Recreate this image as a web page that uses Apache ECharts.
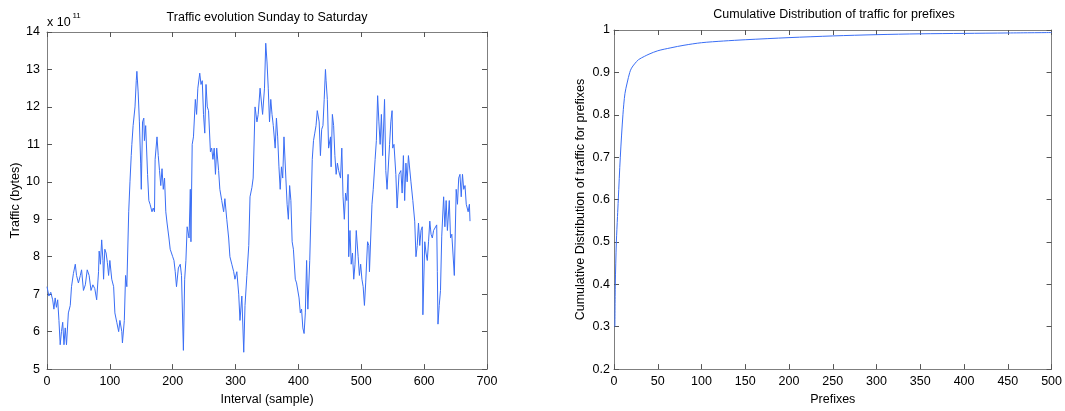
<!DOCTYPE html>
<html>
<head>
<meta charset="utf-8">
<script src="https://cdn.jsdelivr.net/npm/echarts@6/dist/echarts.min.js"></script>
<style>
html,body{margin:0;padding:0;background:#fff;}
#chart{width:1065px;height:411px;}
</style>
</head>
<body>
<div id="chart"></div>
<script>
// ---- Left chart: traffic per interval (values in units of 1e11 bytes) ----
var sampleIdx = [0,3,6,9,11,13,15,17,19,21,23,25,27,29,31,34,37,39,42,45,47,50,53,55,58,61,64,67,70,73,76,79,82,83,85,87,89,90,92,94,96,98,100,103,106,108,111,114,116,119,120,123,125,127,130,132,134,135,137,140,142,143,145,147,149,150,152,154,155,157,160,162,164,167,169,171,172,175,177,179,181,183,185,187,189,191,194,196,198,200,202,204,206,209,212,214,217,219,221,223,226,228,229,231,233,236,238,240,243,245,247,249,251,253,255,257,260,262,264,266,268,270,273,275,278,281,283,286,289,291,294,297,299,302,305,307,310,313,315,318,321,323,326,328,331,334,336,339,342,343,346,348,350,352,354,356,358,360,363,365,367,369,371,373,375,377,380,382,384,386,388,390,392,395,397,399,401,403,405,407,409,411,413,415,418,420,422,424,426,428,430,433,435,437,439,441,443,444,446,448,451,452,454,456,458,460,462,464,467,469,471,473,475,477,479,480,482,484,486,488,490,492,495,497,499,501,503,505,507,510,512,513,515,517,519,522,524,526,528,530,532,534,537,539,541,543,545,547,549,550,552,555,557,560,563,565,567,569,571,573,575,577,579,582,584,585,587,589,591,593,595,597,598,601,603,605,607,609,611,613,615,618,620,621,622,624,626,628,630,631,633,635,637,640,642,644,647,648,651,653,655,657,659,661,663,665,667,670,672,673];
var traffic = [7.2,6.95,7.05,6.85,6.6,6.9,6.65,6.85,6.3,5.65,6.0,6.25,5.65,6.1,5.65,6.5,6.7,7.2,7.55,7.8,7.5,7.3,7.5,7.65,7.1,7.25,7.65,7.5,7.1,7.25,7.15,6.85,7.6,8.15,7.8,8.45,7.9,7.4,8.2,8.1,7.85,7.5,7.9,7.4,7.2,6.5,6.25,6.0,6.3,6.0,5.7,6.3,7.5,7.2,9.2,10.0,10.7,11.0,11.5,12.0,12.7,12.95,12.4,11.6,10.5,9.8,11.6,11.7,11.1,11.5,10.2,9.5,9.4,9.2,9.3,9.2,10.6,11.2,10.7,10.3,9.9,10.35,9.8,10.1,9.2,8.9,8.5,8.2,8.1,8.0,7.9,7.6,7.2,7.7,7.8,7.5,5.5,7.4,7.9,8.8,8.5,9.8,8.4,11.0,11.2,12.2,11.8,12.5,12.9,12.6,12.7,11.8,11.3,12.6,12.0,11.9,10.8,10.9,10.6,10.9,10.2,10.9,10.3,9.8,9.5,9.2,9.55,9.0,8.5,8.0,7.8,7.6,7.4,7.6,7.0,6.3,6.95,5.45,6.7,7.5,8.3,9.6,9.85,10.1,12.0,11.6,11.8,12.5,12.5,11.8,12.5,13.7,13.2,12.5,11.6,12.2,11.8,11.5,10.9,11.7,11.2,10.4,9.8,10.4,10.1,11.2,10.1,9.4,9.0,9.9,9.5,8.4,8.2,7.4,7.3,7.35,6.9,6.5,6.6,6.1,5.95,6.5,7.9,6.6,7.9,9.2,10.6,11.1,11.3,11.5,11.9,11.6,10.7,11.4,11.5,12.2,13.0,12.7,12.2,10.9,11.2,10.4,11.8,11.5,10.7,10.2,10.5,10.3,10.1,10.9,9.6,9.0,9.7,9.5,10.2,8.0,8.7,7.8,8.1,7.4,7.8,8.7,8.0,7.5,7.8,7.4,7.2,6.7,7.3,8.4,8.3,7.6,8.5,9.4,9.8,10.6,11.1,12.3,11.6,11.0,11.8,10.7,12.2,10.3,9.8,9.8,11.0,11.6,11.9,10.9,11.0,10.2,9.3,10.2,10.3,9.7,10.7,9.5,10.5,10.0,10.7,10.7,10.0,9.5,9.5,8.95,8.0,8.3,8.9,8.3,8.7,8.8,6.45,8.4,8.1,7.9,8.4,8.95,8.6,8.5,8.7,8.7,8.85,7.6,6.2,6.7,7.1,8.55,8.6,9.6,8.8,9.5,8.7,9.5,8.5,8.6,8.6,7.5,9.8,9.4,10.1,10.2,9.6,10.2,9.8,9.9,9.4,9.2,9.4,8.95];

// ---- Right chart: cumulative distribution of traffic for prefixes ----
var prefixes = [1,1.5,2.7,4,4.9,7.2,10.2,12.5,15,18,20,23.5,28,35,40,50,65,80,100,125,150,200,250,300,350,400,450,500];
var cdf = [0.30,0.40,0.50,0.56,0.60,0.70,0.80,0.85,0.875,0.90,0.91,0.92,0.93,0.938,0.943,0.951,0.958,0.964,0.970,0.974,0.977,0.982,0.986,0.989,0.991,0.992,0.993,0.994];

var leftTicks = {min:0, max:700, interval:100};
var leftY = {min:5, max:14, interval:1};
var rightTicks = {min:0, max:500, interval:50};
var rightY = {min:0.2, max:1, interval:0.1};

var FONT = '"Liberation Sans", Arial, Helvetica, sans-serif';
var FS = 12.5;
var BOX = '#7f7f7f';
var LINE = '#3a6ef5';

function axisBase(extra){
  var a = {
    type:'value',
    axisLine:{show:true, onZero:false, lineStyle:{color:BOX, width:1}},
    axisTick:{show:true, inside:true, length:5, lineStyle:{color:'#555', width:1}},
    axisLabel:{show:true, color:'#000', fontSize:FS, fontFamily:FONT},
    splitLine:{show:false},
    nameTextStyle:{color:'#000', fontSize:FS, fontFamily:FONT}
  };
  for (var k in extra) a[k] = extra[k];
  return a;
}

var chart = echarts.init(document.getElementById('chart'), null, {renderer:'canvas'});
chart.setOption({
  animation:false,
  backgroundColor:'#fff',
  grid:[
    {left:47, top:32, width:440, height:346},
    {left:614, top:30, width:440, height:347}
  ],
  xAxis:[
    axisBase({gridIndex:0, position:'bottom', min:leftTicks.min, max:leftTicks.max, interval:leftTicks.interval,
      name:'Interval (sample)', nameLocation:'middle', nameGap:20,
      axisLabel:{show:true, color:'#000', fontSize:FS, fontFamily:FONT, margin:6}}),
    axisBase({gridIndex:0, position:'top', min:leftTicks.min, max:leftTicks.max, interval:leftTicks.interval,
      axisLabel:{show:false}}),
    axisBase({gridIndex:1, position:'bottom', min:rightTicks.min, max:rightTicks.max, interval:rightTicks.interval,
      name:'Prefixes', nameLocation:'middle', nameGap:21,
      axisLabel:{show:true, color:'#000', fontSize:FS, fontFamily:FONT, margin:6}}),
    axisBase({gridIndex:1, position:'top', min:rightTicks.min, max:rightTicks.max, interval:rightTicks.interval,
      axisLabel:{show:false}})
  ],
  yAxis:[
    axisBase({gridIndex:0, position:'left', min:leftY.min, max:leftY.max, interval:leftY.interval,
      name:'Traffic (bytes)', nameLocation:'middle', nameGap:24, nameRotate:90,
      axisLabel:{show:true, color:'#000', fontSize:FS, fontFamily:FONT, margin:7}}),
    axisBase({gridIndex:0, position:'right', min:leftY.min, max:leftY.max, interval:leftY.interval,
      axisLabel:{show:false}}),
    axisBase({gridIndex:1, position:'left', min:rightY.min, max:rightY.max, interval:rightY.interval,
      name:'Cumulative Distribution of traffic for prefixes', nameLocation:'middle', nameGap:27, nameRotate:90,
      axisLabel:{show:true, color:'#000', fontSize:FS, fontFamily:FONT, margin:4,
        formatter:function(v){ return (Math.round(v*10)/10).toString(); }}}),
    axisBase({gridIndex:1, position:'right', min:rightY.min, max:rightY.max, interval:rightY.interval,
      axisLabel:{show:false}})
  ],
  series:[
    {type:'line', xAxisIndex:0, yAxisIndex:0, showSymbol:false, symbol:'none',
     lineStyle:{color:LINE, width:1}, itemStyle:{color:LINE},
     data: sampleIdx.map(function(s,i){ return [s, traffic[i]]; })},
    {type:'line', xAxisIndex:2, yAxisIndex:2, showSymbol:false, symbol:'none', smooth:0.3,
     lineStyle:{color:LINE, width:1}, itemStyle:{color:LINE},
     data: prefixes.map(function(p,i){ return [p, cdf[i]]; })}
  ],
  graphic:[
    {type:'text', x:267, y:18, style:{text:'Traffic evolution Sunday to Saturday', fill:'#000', font:FS+'px '+FONT, textAlign:'center', textVerticalAlign:'middle'}},
    {type:'text', x:834, y:15, style:{text:'Cumulative Distribution of traffic for prefixes', fill:'#000', font:FS+'px '+FONT, textAlign:'center', textVerticalAlign:'middle'}},
    {type:'text', x:47, y:22.5, style:{text:'x 10', fill:'#000', font:FS+'px '+FONT, textAlign:'left', textVerticalAlign:'middle'}},
    {type:'text', x:72.5, y:15.5, style:{text:'11', fill:'#000', font:'8px '+FONT, textAlign:'left', textVerticalAlign:'middle'}}
  ]
});
</script>
</body>
</html>
